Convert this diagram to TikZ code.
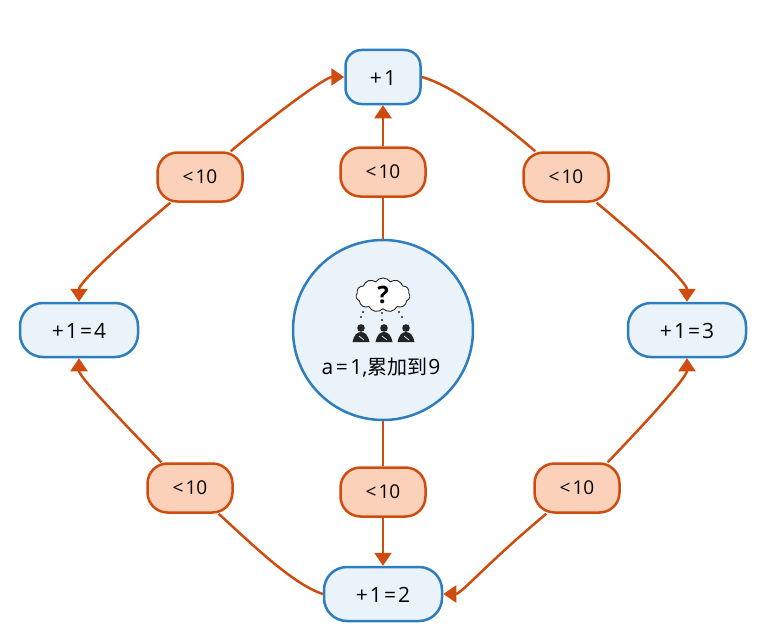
\documentclass[tikz,border=0pt]{standalone}
\usepackage{fontspec}
\setmainfont{Open Sans}
\newfontfamily\cjkfont{Noto Sans CJK SC}
\usetikzlibrary{arrows.meta,shapes.symbols}
\definecolor{stepblue}{RGB}{46,125,190}
\definecolor{stepfill}{RGB}{235,243,250}
\definecolor{guardline}{RGB}{207,76,14}
\definecolor{guardfill}{RGB}{252,209,186}
\definecolor{figdark}{RGB}{35,35,35}

\begin{document}
\begin{tikzpicture}[x=1pt,y=-1pt,
  stepbox/.style={rectangle, rounded corners=23pt, draw=stepblue, fill=stepfill, line width=2.5pt,
    minimum height=54pt, text=black, text height=16pt, text depth=0pt, font=\fontsize{21}{23}\selectfont, inner sep=0pt},
  guard/.style={rectangle, rounded corners=20pt, draw=guardline, fill=guardfill, line width=2.5pt,
    minimum width=85pt, minimum height=49pt, text=black, font=\fontsize{19}{21}\selectfont, inner sep=0pt},
  tr/.style={-{Triangle[length=13pt,width=17pt,quick]}, line width=2.5pt, guardline},
  ln/.style={line width=2.5pt, guardline}
]
  \useasboundingbox (0,0) rectangle (763,626);

  \node[circle, draw=stepblue, fill=stepfill, line width=2.5pt, minimum size=180pt, inner sep=0pt] (start) at (383,330) {};
  \node[stepbox, minimum width=75pt, rounded corners=16pt] (one) at (383,77) {+\kern2pt 1};
  \node[stepbox, minimum width=118pt] (two)   at (383,594) {+\kern2pt 1\kern2pt=\kern2pt 2};
  \node[stepbox, minimum width=118pt] (three) at (687,330) {+\kern2pt 1\kern2pt=\kern2pt 3};
  \node[stepbox, minimum width=118pt] (four)  at (79,330)  {+\kern2pt 1\kern2pt=\kern2pt 4};

  \node[guard] (gmid)  at (383,172) {<\kern2pt 10};
  \node[guard] (gbot)  at (383,492) {<\kern2pt 10};
  \node[guard] (gtl)   at (200,177) {<\kern2pt 10};
  \node[guard] (gtr)   at (566,177) {<\kern2pt 10};
  \node[guard] (gbl)   at (190,488) {<\kern2pt 10};
  \node[guard] (gbr)   at (577,488) {<\kern2pt 10};

  % icon
  \node[cloud, cloud puffs=11, cloud puff arc=110, aspect=1.7, draw=figdark, fill=white, line width=0.9pt,
    minimum width=54pt, minimum height=34pt, inner sep=0pt, font=\fontsize{24}{24}\selectfont\bfseries] (think) at (383,295) {?};
  \foreach \px/\py/\qx/\qy in {363/312/361/317, 382/313/382/320, 399/312/402/317}
    \fill[figdark] (\px,\py) circle (1.2pt) (\qx,\qy) circle (1.2pt);
  \foreach \hx in {361,384,406} {
    \fill[figdark] (\hx,328) circle (3.8pt);
    \fill[figdark] (\hx-8.5,342) .. controls (\hx-7,335) and (\hx-4,332) .. (\hx,332)
      .. controls (\hx+4,332) and (\hx+7,335) .. (\hx+8.5,342) -- cycle;
    \draw[white, line width=0.7pt] (\hx-2,336) -- (\hx+3,340);
  }
  \node[font=\fontsize{21}{23}\selectfont, inner sep=0pt] (goal) at (381,368) {a\kern2.5pt=\kern2.5pt 1,{\cjkfont\fontsize{20}{22}\selectfont 累加到}\kern1pt 9};

  \draw[ln] (start.north) -- (gmid.south);
  \draw[tr] (gmid.north) -- (one.south);
  \draw[ln] (start.south) -- (gbot.north);
  \draw[tr] (gbot.south) -- (two.north);

  \draw[tr] (gtl.40) .. controls +(50,-42) and +(-18,0) .. (one.west);
  \draw[tr] (gtl.221) .. controls +(-60,50) and +(0,-18) .. (four.north);
  \draw[ln] (one.east) .. controls +(30,8) and +(-35,-30) .. (gtr.140);
  \draw[tr] (gtr.-40) .. controls +(60,50) and +(0,-18) .. (three.north);
  \draw[tr] (gbr.40) .. controls +(50,-52) and +(0,18) .. (three.south);
  \draw[tr] (gbr.220) .. controls +(-60,50) and +(18,0) .. (two.east);
  \draw[tr] (gbl.138) .. controls +(-50,-52) and +(0,18) .. (four.south);
  \draw[ln] (two.west) .. controls +(-30,-10) and +(35,32) .. (gbl.-42);
\end{tikzpicture}
\end{document}
